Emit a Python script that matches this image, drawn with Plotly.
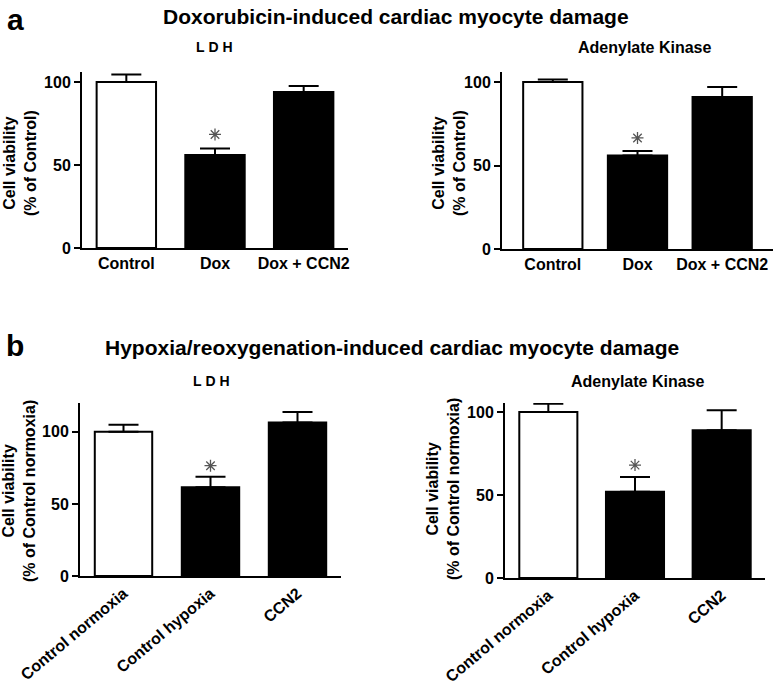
import plotly.graph_objects as go

# panel a: doxorubicin
dox_cats = ["Control", "Dox", "Dox + CCN2"]
dox_ldh = [100, 56, 94]
dox_ldh_err = [4.5, 4, 3.5]
dox_ak = [100, 56, 91]
dox_ak_err = [1.5, 2.7, 6]

# panel b: hypoxia / reoxygenation
hyp_cats = ["Control normoxia", "Control hypoxia", "CCN2"]
hyp_ldh = [100, 61.5, 106.5]
hyp_ldh_err = [5, 7.3, 7.3]
hyp_ak = [100, 52, 89]
hyp_ak_err = [5, 8.8, 12]

# significance stars (category, y)
star_dox_ldh = ("Dox", 68.4)
star_dox_ak = ("Dox", 66.5)
star_hyp_ldh = ("Control hypoxia", 76.5)
star_hyp_ak = ("Control hypoxia", 68)

FONT = "Liberation Sans, Arial, sans-serif"
W, H = 780, 685
fills = ["white", "black", "black"]

fig = go.Figure()

panels = [
    # cats, vals, errs, star, x px domain, y px (top, bottom), yrange, xrange, bar width
    (dox_cats, dox_ldh, dox_ldh_err, star_dox_ldh, (82, 348), (72, 248), 106, (-0.5, 2.5), 0.67),
    (dox_cats, dox_ak, dox_ak_err, star_dox_ak, (502, 773), (72, 249), 106, (-0.6, 2.6), 0.7),
    (hyp_cats, hyp_ldh, hyp_ldh_err, star_hyp_ldh, (80, 341), (403, 576), 120, (-0.5, 2.5), 0.66),
    (hyp_cats, hyp_ak, hyp_ak_err, star_hyp_ak, (505, 765), (403, 578), 105.4, (-0.5, 2.5), 0.67),
]

for i, (cats, vals, errs, star, xd, yd, ymax, xr, bw) in enumerate(panels, start=1):
    sfx = "" if i == 1 else str(i)
    fig.add_trace(go.Bar(
        x=cats, y=vals, width=bw,
        marker=dict(color=fills, line=dict(color="black", width=2)),
        error_y=dict(type="data", symmetric=False, array=errs, arrayminus=[0, 0, 0],
                     thickness=2, width=15, color="black"),
        xaxis="x" + sfx, yaxis="y" + sfx, showlegend=False,
    ))
    fig.add_trace(go.Scatter(
        x=[star[0]], y=[star[1]], mode="markers",
        marker=dict(symbol="asterisk-open", size=10, color="#555",
                    line=dict(color="#555", width=1.3)),
        xaxis="x" + sfx, yaxis="y" + sfx, showlegend=False,
    ))
    fig.update_layout(**{
        "xaxis" + sfx: dict(
            domain=[xd[0] / W, xd[1] / W], anchor="y" + sfx, range=list(xr),
            showline=True, linecolor="black", linewidth=2, ticks="",
            showgrid=False, zeroline=False, automargin=False,
            tickangle=0 if i <= 2 else -40,
            tickfont=dict(size=16, color="black"),
        ),
        "yaxis" + sfx: dict(
            domain=[1 - yd[1] / H, 1 - yd[0] / H], anchor="x" + sfx, range=[0, ymax],
            showline=True, linecolor="black", linewidth=2, ticks="outside",
            ticklen=6, tickwidth=2, tickcolor="black", tickvals=[0, 50, 100],
            showgrid=False, zeroline=False, automargin=False,
            tickfont=dict(size=16, color="black"),
        ),
    })

ann = []
ann.append(dict(text="a", x=5 / W, y=1 - 20 / H, xanchor="left", font=dict(size=30)))
ann.append(dict(text="b", x=4 / W, y=1 - 345 / H, xanchor="left", font=dict(size=30)))
ann.append(dict(text="Doxorubicin-induced cardiac myocyte damage", x=396 / W, y=1 - 17 / H, font=dict(size=21)))
ann.append(dict(text="Hypoxia/reoxygenation-induced cardiac myocyte damage", x=392 / W, y=1 - 347 / H, font=dict(size=21)))
ann.append(dict(text="L\u00a0D\u00a0H", x=214 / W, y=1 - 47 / H, font=dict(size=14)))
ann.append(dict(text="Adenylate Kinase", x=644 / W, y=1 - 47 / H, font=dict(size=16)))
ann.append(dict(text="L\u00a0D\u00a0H", x=211 / W, y=1 - 381 / H, font=dict(size=14)))
ann.append(dict(text="Adenylate Kinase", x=637 / W, y=1 - 381 / H, font=dict(size=16)))
ann.append(dict(text="Cell viability<br>(% of Control)", x=20 / W, y=1 - 163 / H, textangle=-90, font=dict(size=16)))
ann.append(dict(text="Cell viability<br>(% of Control)", x=449 / W, y=1 - 163 / H, textangle=-90, font=dict(size=16)))
ann.append(dict(text="Cell viability<br>(% of Control normoxia)", x=19 / W, y=1 - 491 / H, textangle=-90, font=dict(size=16)))
ann.append(dict(text="Cell viability<br>(% of Control normoxia)", x=443 / W, y=1 - 489 / H, textangle=-90, font=dict(size=16)))
for a in ann:
    a.update(xref="paper", yref="paper", showarrow=False)
    a.setdefault("xanchor", "center")
    a.setdefault("yanchor", "middle")

fig.update_layout(
    width=W, height=H,
    margin=dict(l=0, r=0, t=0, b=0),
    paper_bgcolor="white", plot_bgcolor="white",
    font=dict(family=FONT, color="black", weight="bold"),
    annotations=ann,
    bargap=0.3,
)

# drop the default 8px page margin so the figure sits at the window's corner
fig.write_html("out.html", config={"displayModeBar": False},
               post_script="document.body.style.margin='0';")
